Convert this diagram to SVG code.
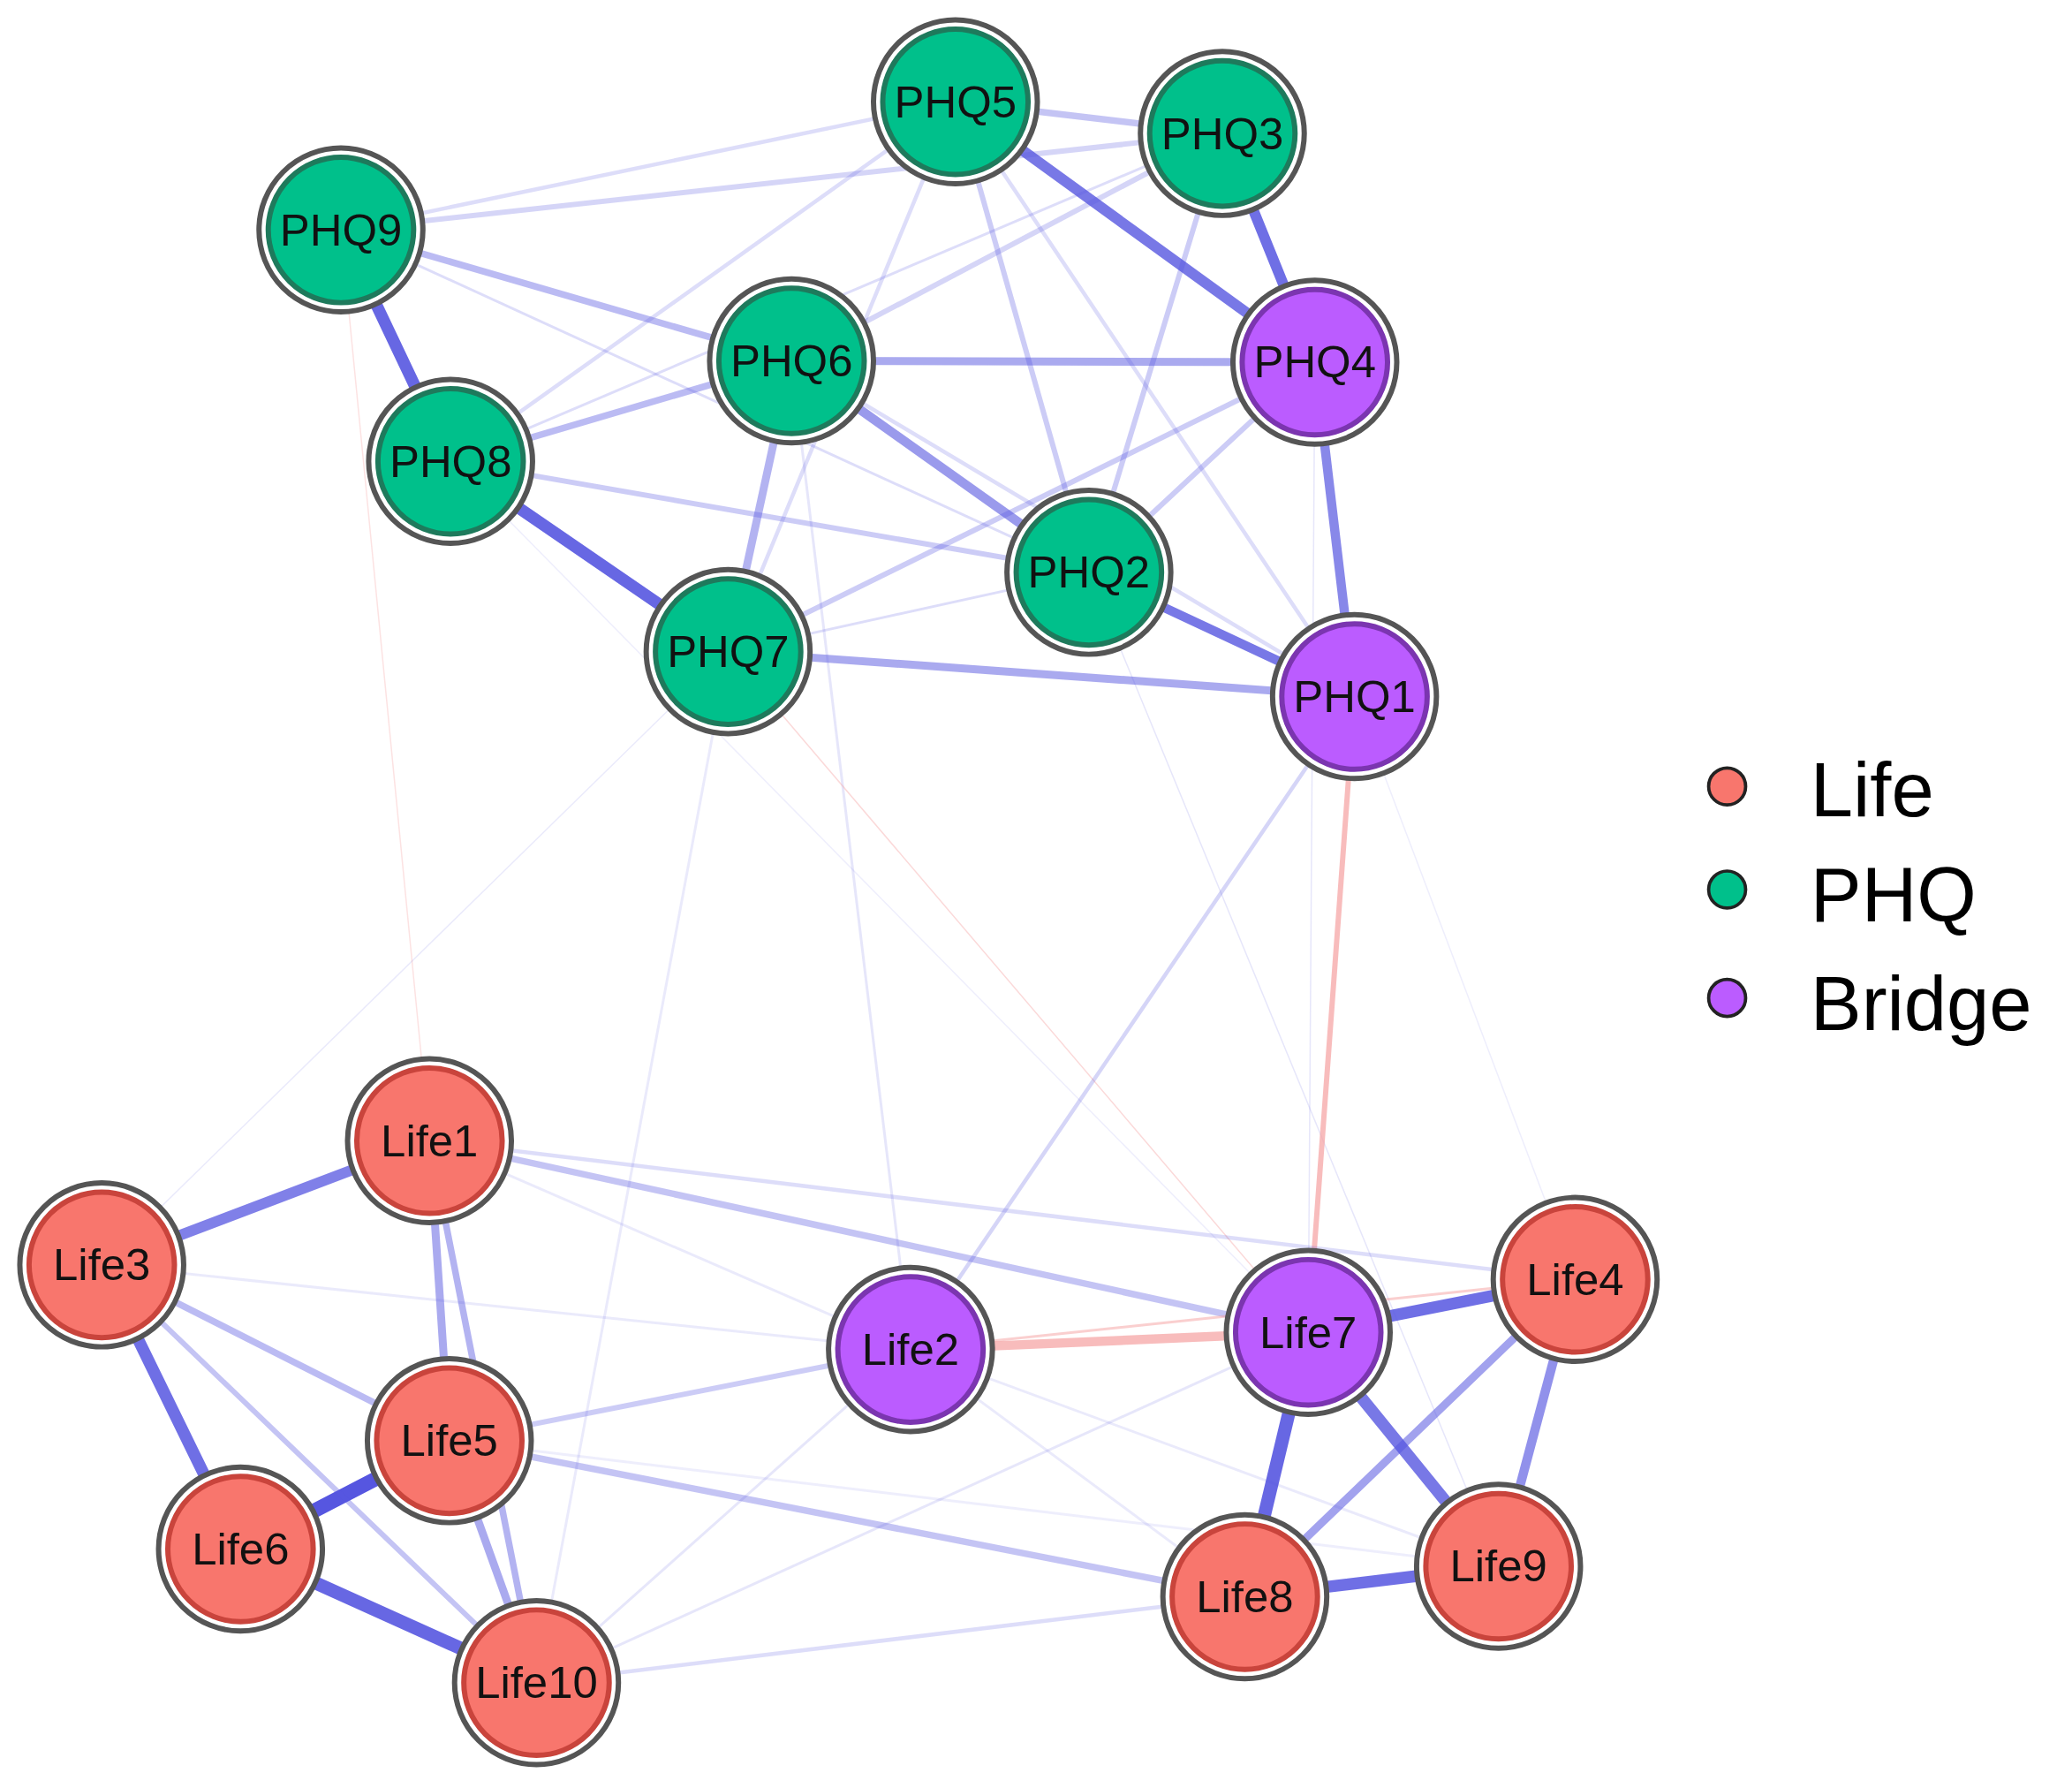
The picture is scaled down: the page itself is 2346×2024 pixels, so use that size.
<svg xmlns="http://www.w3.org/2000/svg" width="2346" height="2024" viewBox="0 0 2346 2024">
<style>
.e{stroke:#5656e0;stroke-linecap:round;fill:none}
.p{stroke:#f5a0a0;stroke-linecap:round;fill:none}
.ring{fill:#fff;stroke:#555;stroke-width:4}
.life{fill:#F8766D;stroke:#c9443c;stroke-width:4}
.phq{fill:#00C08B;stroke:#1e7a5c;stroke-width:4}
.br{fill:#BB5CFF;stroke:#7b35b0;stroke-width:4}
.lb{font-family:"Liberation Sans",Arial,sans-serif;font-size:34px;text-anchor:middle;dominant-baseline:central;fill:#111}
.lg{font-family:"Liberation Sans",Arial,sans-serif;font-size:58px;fill:#000;dominant-baseline:central}
</style>
<rect width="2346" height="2024" fill="#fff"/>
<g transform="scale(1.4962)">
<g id="edges">
<line class="p" x1="258" y1="174" x2="325" y2="863" stroke-width="1" opacity="0.3"/>
<line class="e" x1="551" y1="493" x2="77" y2="957" stroke-width="1" opacity="0.12"/>
<line class="e" x1="599" y1="273" x2="689" y2="1021" stroke-width="2" opacity="0.15"/>
<line class="e" x1="551" y1="493" x2="406" y2="1273" stroke-width="2" opacity="0.12"/>
<line class="e" x1="824" y1="433" x2="1134" y2="1185" stroke-width="1" opacity="0.15"/>
<line class="e" x1="995" y1="274" x2="990" y2="1008" stroke-width="1" opacity="0.15"/>
<line class="e" x1="1025" y1="527" x2="1192" y2="968" stroke-width="1" opacity="0.1"/>
<line class="e" x1="341" y1="349" x2="990" y2="1008" stroke-width="1" opacity="0.1"/>
<line class="p" x1="551" y1="493" x2="990" y2="1008" stroke-width="1" opacity="0.4"/>
<line class="e" x1="1025" y1="527" x2="689" y2="1021" stroke-width="3" opacity="0.25"/>
<line class="p" x1="1025" y1="527" x2="990" y2="1008" stroke-width="4" opacity="0.7"/>
<line class="e" x1="258" y1="174" x2="341" y2="349" stroke-width="9" opacity="0.9"/>
<line class="e" x1="341" y1="349" x2="551" y2="493" stroke-width="9" opacity="0.9"/>
<line class="e" x1="723" y1="77" x2="995" y2="274" stroke-width="8" opacity="0.8"/>
<line class="e" x1="925" y1="101" x2="995" y2="274" stroke-width="8" opacity="0.85"/>
<line class="e" x1="995" y1="274" x2="1025" y2="527" stroke-width="7" opacity="0.7"/>
<line class="e" x1="824" y1="433" x2="1025" y2="527" stroke-width="7" opacity="0.8"/>
<line class="e" x1="599" y1="273" x2="824" y2="433" stroke-width="7" opacity="0.6"/>
<line class="e" x1="599" y1="273" x2="995" y2="274" stroke-width="6" opacity="0.5"/>
<line class="e" x1="551" y1="493" x2="1025" y2="527" stroke-width="6" opacity="0.5"/>
<line class="e" x1="599" y1="273" x2="551" y2="493" stroke-width="6" opacity="0.45"/>
<line class="e" x1="258" y1="174" x2="599" y2="273" stroke-width="5" opacity="0.4"/>
<line class="e" x1="341" y1="349" x2="599" y2="273" stroke-width="5" opacity="0.4"/>
<line class="e" x1="723" y1="77" x2="925" y2="101" stroke-width="5" opacity="0.35"/>
<line class="e" x1="258" y1="174" x2="723" y2="77" stroke-width="3" opacity="0.2"/>
<line class="e" x1="258" y1="174" x2="925" y2="101" stroke-width="4" opacity="0.25"/>
<line class="e" x1="341" y1="349" x2="824" y2="433" stroke-width="4" opacity="0.3"/>
<line class="e" x1="551" y1="493" x2="995" y2="274" stroke-width="4" opacity="0.3"/>
<line class="e" x1="925" y1="101" x2="824" y2="433" stroke-width="4" opacity="0.3"/>
<line class="e" x1="723" y1="77" x2="824" y2="433" stroke-width="4" opacity="0.3"/>
<line class="e" x1="723" y1="77" x2="1025" y2="527" stroke-width="3" opacity="0.2"/>
<line class="e" x1="723" y1="77" x2="341" y2="349" stroke-width="3" opacity="0.2"/>
<line class="e" x1="925" y1="101" x2="599" y2="273" stroke-width="4" opacity="0.25"/>
<line class="e" x1="258" y1="174" x2="824" y2="433" stroke-width="2" opacity="0.2"/>
<line class="e" x1="551" y1="493" x2="824" y2="433" stroke-width="2" opacity="0.2"/>
<line class="e" x1="995" y1="274" x2="824" y2="433" stroke-width="4" opacity="0.3"/>
<line class="e" x1="723" y1="77" x2="551" y2="493" stroke-width="3" opacity="0.2"/>
<line class="e" x1="599" y1="273" x2="1025" y2="527" stroke-width="3" opacity="0.2"/>
<line class="e" x1="341" y1="349" x2="925" y2="101" stroke-width="2" opacity="0.2"/>
<line class="e" x1="77" y1="957" x2="325" y2="863" stroke-width="8" opacity="0.75"/>
<line class="e" x1="77" y1="957" x2="182" y2="1172" stroke-width="9" opacity="0.85"/>
<line class="e" x1="182" y1="1172" x2="340" y2="1090" stroke-width="11" stroke="#2c2ce0" opacity="1"/>
<line class="e" x1="182" y1="1172" x2="406" y2="1273" stroke-width="10" opacity="0.9"/>
<line class="e" x1="325" y1="863" x2="340" y2="1090" stroke-width="6" opacity="0.5"/>
<line class="e" x1="325" y1="863" x2="406" y2="1273" stroke-width="5" opacity="0.45"/>
<line class="e" x1="77" y1="957" x2="340" y2="1090" stroke-width="5" opacity="0.4"/>
<line class="e" x1="77" y1="957" x2="406" y2="1273" stroke-width="4" opacity="0.35"/>
<line class="e" x1="340" y1="1090" x2="406" y2="1273" stroke-width="6" opacity="0.5"/>
<line class="e" x1="990" y1="1008" x2="1192" y2="968" stroke-width="9" opacity="0.85"/>
<line class="e" x1="990" y1="1008" x2="942" y2="1208" stroke-width="10" opacity="0.9"/>
<line class="e" x1="990" y1="1008" x2="1134" y2="1185" stroke-width="9" opacity="0.8"/>
<line class="e" x1="942" y1="1208" x2="1134" y2="1185" stroke-width="9" opacity="0.85"/>
<line class="e" x1="942" y1="1208" x2="1192" y2="968" stroke-width="6" opacity="0.55"/>
<line class="e" x1="1192" y1="968" x2="1134" y2="1185" stroke-width="7" opacity="0.65"/>
<line class="e" x1="325" y1="863" x2="990" y2="1008" stroke-width="5" opacity="0.35"/>
<line class="e" x1="325" y1="863" x2="1192" y2="968" stroke-width="3" opacity="0.2"/>
<line class="e" x1="340" y1="1090" x2="689" y2="1021" stroke-width="4" opacity="0.3"/>
<line class="e" x1="340" y1="1090" x2="942" y2="1208" stroke-width="5" opacity="0.35"/>
<line class="e" x1="406" y1="1273" x2="942" y2="1208" stroke-width="3" opacity="0.2"/>
<line class="e" x1="406" y1="1273" x2="990" y2="1008" stroke-width="2" opacity="0.15"/>
<line class="e" x1="406" y1="1273" x2="689" y2="1021" stroke-width="2" opacity="0.15"/>
<line class="e" x1="77" y1="957" x2="689" y2="1021" stroke-width="2" opacity="0.12"/>
<line class="e" x1="325" y1="863" x2="689" y2="1021" stroke-width="2" opacity="0.12"/>
<line class="e" x1="689" y1="1021" x2="1134" y2="1185" stroke-width="2" opacity="0.12"/>
<line class="e" x1="689" y1="1021" x2="942" y2="1208" stroke-width="2" opacity="0.12"/>
<line class="e" x1="340" y1="1090" x2="1134" y2="1185" stroke-width="2" opacity="0.1"/>
<line class="p" x1="689" y1="1021" x2="990" y2="1008" stroke-width="7" opacity="0.7"/>
<line class="p" x1="689" y1="1021" x2="1192" y2="968" stroke-width="2" opacity="0.5"/>
</g>
<g id="PHQ5"><circle class="ring" cx="723" cy="77" r="62"/><circle class="phq" cx="723" cy="77" r="55"/><text class="lb" x="723" y="77">PHQ5</text></g>
<g id="PHQ3"><circle class="ring" cx="925" cy="101" r="62"/><circle class="phq" cx="925" cy="101" r="55"/><text class="lb" x="925" y="101">PHQ3</text></g>
<g id="PHQ9"><circle class="ring" cx="258" cy="174" r="62"/><circle class="phq" cx="258" cy="174" r="55"/><text class="lb" x="258" y="174">PHQ9</text></g>
<g id="PHQ6"><circle class="ring" cx="599" cy="273" r="62"/><circle class="phq" cx="599" cy="273" r="55"/><text class="lb" x="599" y="273">PHQ6</text></g>
<g id="PHQ4"><circle class="ring" cx="995" cy="274" r="62"/><circle class="br" cx="995" cy="274" r="55"/><text class="lb" x="995" y="274">PHQ4</text></g>
<g id="PHQ8"><circle class="ring" cx="341" cy="349" r="62"/><circle class="phq" cx="341" cy="349" r="55"/><text class="lb" x="341" y="349">PHQ8</text></g>
<g id="PHQ2"><circle class="ring" cx="824" cy="433" r="62"/><circle class="phq" cx="824" cy="433" r="55"/><text class="lb" x="824" y="433">PHQ2</text></g>
<g id="PHQ7"><circle class="ring" cx="551" cy="493" r="62"/><circle class="phq" cx="551" cy="493" r="55"/><text class="lb" x="551" y="493">PHQ7</text></g>
<g id="PHQ1"><circle class="ring" cx="1025" cy="527" r="62"/><circle class="br" cx="1025" cy="527" r="55"/><text class="lb" x="1025" y="527">PHQ1</text></g>
<g id="Life1"><circle class="ring" cx="325" cy="863" r="62"/><circle class="life" cx="325" cy="863" r="55"/><text class="lb" x="325" y="863" font-size="38">Life1</text></g>
<g id="Life3"><circle class="ring" cx="77" cy="957" r="62"/><circle class="life" cx="77" cy="957" r="55"/><text class="lb" x="77" y="957" font-size="38">Life3</text></g>
<g id="Life2"><circle class="ring" cx="689" cy="1021" r="62"/><circle class="br" cx="689" cy="1021" r="55"/><text class="lb" x="689" y="1021" font-size="38">Life2</text></g>
<g id="Life7"><circle class="ring" cx="990" cy="1008" r="62"/><circle class="br" cx="990" cy="1008" r="55"/><text class="lb" x="990" y="1008" font-size="38">Life7</text></g>
<g id="Life4"><circle class="ring" cx="1192" cy="968" r="62"/><circle class="life" cx="1192" cy="968" r="55"/><text class="lb" x="1192" y="968" font-size="38">Life4</text></g>
<g id="Life5"><circle class="ring" cx="340" cy="1090" r="62"/><circle class="life" cx="340" cy="1090" r="55"/><text class="lb" x="340" y="1090" font-size="38">Life5</text></g>
<g id="Life6"><circle class="ring" cx="182" cy="1172" r="62"/><circle class="life" cx="182" cy="1172" r="55"/><text class="lb" x="182" y="1172" font-size="38">Life6</text></g>
<g id="Life10"><circle class="ring" cx="406" cy="1273" r="62"/><circle class="life" cx="406" cy="1273" r="55"/><text class="lb" x="406" y="1273" font-size="34">Life10</text></g>
<g id="Life8"><circle class="ring" cx="942" cy="1208" r="62"/><circle class="life" cx="942" cy="1208" r="55"/><text class="lb" x="942" y="1208" font-size="38">Life8</text></g>
<g id="Life9"><circle class="ring" cx="1134" cy="1185" r="62"/><circle class="life" cx="1134" cy="1185" r="55"/><text class="lb" x="1134" y="1185" font-size="38">Life9</text></g>
<g id="legend">
<circle cx="1307" cy="595" r="14" fill="#F8766D" stroke="#222" stroke-width="2.5"/>
<circle cx="1307" cy="673" r="14" fill="#00C08B" stroke="#222" stroke-width="2.5"/>
<circle cx="1307" cy="755" r="14" fill="#BB5CFF" stroke="#222" stroke-width="2.5"/>
<text class="lg" x="1370" y="597">Life</text>
<text class="lg" x="1370" y="677">PHQ</text>
<text class="lg" x="1370" y="759">Bridge</text>
</g>
</g>
</svg>
